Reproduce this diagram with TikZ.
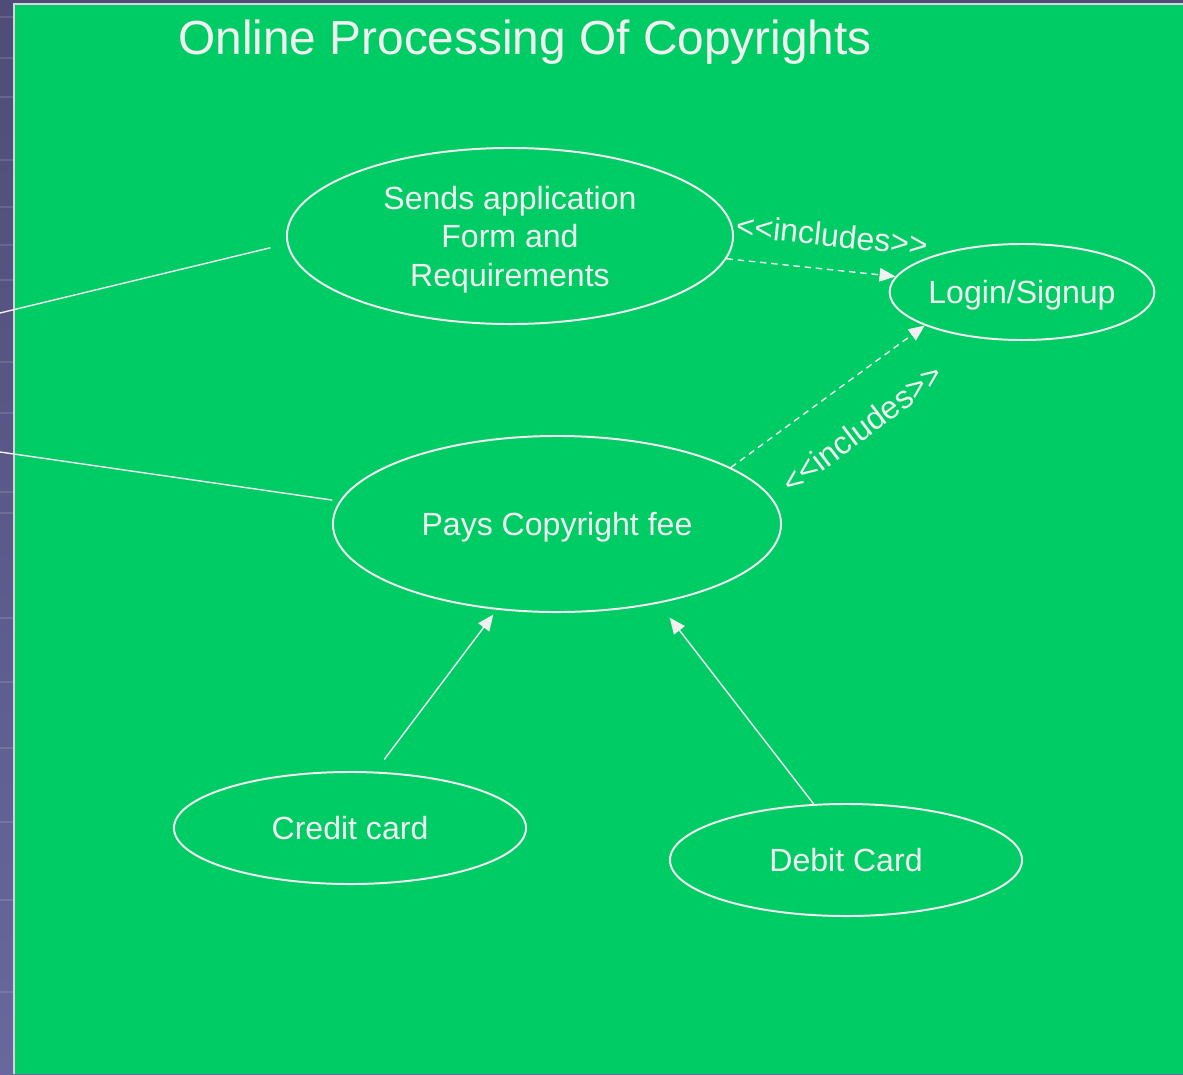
\documentclass[tikz,border=0pt]{standalone}
\usepackage{fontspec}
\setmainfont{Liberation Sans}
\usetikzlibrary{shapes.geometric,arrows.meta}
\definecolor{slidegreen}{RGB}{0,204,102}
\definecolor{slateA}{RGB}{80,76,120}
\definecolor{slateB}{RGB}{104,104,158}
\definecolor{chalk}{RGB}{240,240,240}

\begin{document}
\begin{tikzpicture}[x=0.025cm,y=-0.025cm,
  usecase/.style={ellipse,draw=chalk,line width=1.4pt,inner sep=0pt,text=chalk,
    font=\fontsize{22.8}{27.4}\selectfont,align=center,text depth=0pt},
  assoc/.style={draw=chalk,line width=1pt},
  gen/.style={assoc,-{Triangle[length=0.4cm,width=0.34cm]}},
  incl/.style={gen,dash pattern=on 0.16cm off 0.12cm},
  stereo/.style={text=chalk,font=\fontsize{22.8}{27.4}\selectfont,inner sep=0pt}]
  \useasboundingbox (0,0) rectangle (1183,1074);
  % slide background
  \shade[top color=slateA,bottom color=slateB] (0,0) rectangle (1183,1074);
  \foreach \y in {17,58,97,160,207,245,280,362,413,492,513,618,682,748,822,900,992}
    \draw[white,opacity=0.12,line width=2pt] (0,\y) -- (14,\y);
  \fill[slidegreen] (14,4) rectangle (1183,1074);
  \draw[chalk!80!slateB,line width=0.8pt] (14,1074) -- (14,4) -- (1183,4);

  \node[text=chalk,font=\fontsize{34}{40}\selectfont,anchor=base] (title) at (525,54) {Online Processing Of Copyrights};

  % use cases
  \node[usecase,minimum width=11.15cm,minimum height=4.4cm] (sends) at (510,236) {Sends application\\Form and\\Requirements};
  \node[usecase,minimum width=6.4cm,minimum height=2.4cm] (login) at (1022,292) {Login/Signup};
  \node[usecase,minimum width=11.2cm,minimum height=4.4cm] (pays) at (557,524) {Pays Copyright fee};
  \node[usecase,minimum width=8.8cm,minimum height=2.8cm] (credit) at (350,828) {Credit card};
  \node[usecase,minimum width=8.8cm,minimum height=2.8cm] (debit) at (846,860) {Debit Card};

  % actor links (actor is off the slide)
  \coordinate (actorA) at (0,313);
  \coordinate (actorB) at (0,452);
  \draw[assoc,shorten >=0.42cm] (actorA) -- (sends.182);
  \draw[assoc,shorten >=0.18cm] (actorB) -- (pays.174);

  % includes
  \draw[incl] (sends.354) -- (login.173);
  \draw[incl] (pays.18) -- (login.199);
  \node[stereo,rotate=-6] (inclA) at (832,235) {<\kern0pt<includes>\kern0pt>};
  \node[stereo,rotate=37] (inclB) at (862,428) {<\kern0pt<includes>\kern0pt>};

  % payment kinds
  \draw[gen,shorten <=0.38cm,shorten >=0.15cm] (credit.66) -- (pays.235);
  \draw[gen,shorten >=0.45cm] (debit.120) -- (pays.322);
\end{tikzpicture}
\end{document}
